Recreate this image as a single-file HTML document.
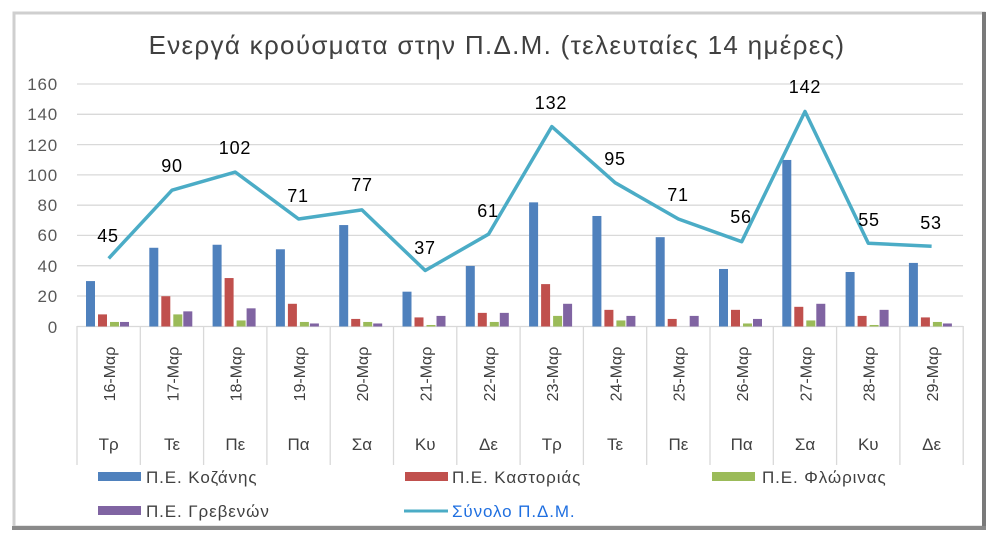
<!DOCTYPE html>
<html><head><meta charset="utf-8"><style>
html,body{margin:0;padding:0;background:#fff;width:1000px;height:540px;overflow:hidden}
svg{display:block;font-family:"Liberation Sans","DejaVu Sans",sans-serif}
</style></head><body>
<svg width="1000" height="540" viewBox="0 0 1000 540" xmlns="http://www.w3.org/2000/svg">
<rect x="0" y="0" width="1000" height="540" fill="#fff"/>
<rect x="14" y="13" width="970" height="514" fill="#fff" stroke="#cfcfcf" stroke-width="3"/>
<line x1="984" y1="12" x2="984" y2="529" stroke="#7a7a7a" stroke-width="4"/>
<line x1="12" y1="528" x2="986" y2="528" stroke="#8a8a8a" stroke-width="4"/>
<text x="497" y="54" text-anchor="middle" font-size="26" letter-spacing="1.3" fill="#404040">Ενεργά κρούσματα στην Π.Δ.Μ. (τελευταίες 14 ημέρες)</text>
<g stroke="#d9d9d9" stroke-width="1.3">
<line x1="77" x2="963" y1="84" y2="84"/><line x1="77" x2="963" y1="114.3" y2="114.3"/>
<line x1="77" x2="963" y1="144.6" y2="144.6"/><line x1="77" x2="963" y1="174.9" y2="174.9"/>
<line x1="77" x2="963" y1="205.2" y2="205.2"/><line x1="77" x2="963" y1="235.4" y2="235.4"/>
<line x1="77" x2="963" y1="265.7" y2="265.7"/><line x1="77" x2="963" y1="296" y2="296"/>
<line x1="77" x2="963" y1="326.5" y2="326.5"/>
</g>
<g font-size="17" fill="#595959" text-anchor="end" letter-spacing="0.8">
<text x="58" y="90">160</text><text x="58" y="120">140</text><text x="58" y="151">120</text>
<text x="58" y="181">100</text><text x="58" y="211">80</text><text x="58" y="241">60</text>
<text x="58" y="272">40</text><text x="58" y="302">20</text><text x="58" y="333">0</text>
</g>
<g stroke="#d9d9d9" stroke-width="1.3">
<line x1="77" x2="77" y1="326" y2="465"/><line x1="140.3" x2="140.3" y1="326" y2="465"/>
<line x1="203.6" x2="203.6" y1="326" y2="465"/><line x1="266.9" x2="266.9" y1="326" y2="465"/>
<line x1="330.2" x2="330.2" y1="326" y2="465"/><line x1="393.5" x2="393.5" y1="326" y2="465"/>
<line x1="456.8" x2="456.8" y1="326" y2="465"/><line x1="520.1" x2="520.1" y1="326" y2="465"/>
<line x1="583.4" x2="583.4" y1="326" y2="465"/><line x1="646.7" x2="646.7" y1="326" y2="465"/>
<line x1="710" x2="710" y1="326" y2="465"/><line x1="773.3" x2="773.3" y1="326" y2="465"/>
<line x1="836.6" x2="836.6" y1="326" y2="465"/><line x1="899.9" x2="899.9" y1="326" y2="465"/>
<line x1="963.2" x2="963.2" y1="326" y2="465"/>
</g>
<g>
<g transform="translate(77,326.5) scale(1,-1.514)"><rect x="9" width="9" height="30" fill="#4f81bd"/><rect x="21" width="9" height="8" fill="#c0504d"/><rect x="33" width="9" height="3" fill="#9bbb59"/><rect x="43" width="9" height="3" fill="#8064a2"/></g>
<g transform="translate(140.3,326.5) scale(1,-1.514)"><rect x="9" width="9" height="52" fill="#4f81bd"/><rect x="21" width="9" height="20" fill="#c0504d"/><rect x="33" width="9" height="8" fill="#9bbb59"/><rect x="43" width="9" height="10" fill="#8064a2"/></g>
<g transform="translate(203.6,326.5) scale(1,-1.514)"><rect x="9" width="9" height="54" fill="#4f81bd"/><rect x="21" width="9" height="32" fill="#c0504d"/><rect x="33" width="9" height="4" fill="#9bbb59"/><rect x="43" width="9" height="12" fill="#8064a2"/></g>
<g transform="translate(266.9,326.5) scale(1,-1.514)"><rect x="9" width="9" height="51" fill="#4f81bd"/><rect x="21" width="9" height="15" fill="#c0504d"/><rect x="33" width="9" height="3" fill="#9bbb59"/><rect x="43" width="9" height="2" fill="#8064a2"/></g>
<g transform="translate(330.2,326.5) scale(1,-1.514)"><rect x="9" width="9" height="67" fill="#4f81bd"/><rect x="21" width="9" height="5" fill="#c0504d"/><rect x="33" width="9" height="3" fill="#9bbb59"/><rect x="43" width="9" height="2" fill="#8064a2"/></g>
<g transform="translate(393.5,326.5) scale(1,-1.514)"><rect x="9" width="9" height="23" fill="#4f81bd"/><rect x="21" width="9" height="6" fill="#c0504d"/><rect x="33" width="9" height="1" fill="#9bbb59"/><rect x="43" width="9" height="7" fill="#8064a2"/></g>
<g transform="translate(456.8,326.5) scale(1,-1.514)"><rect x="9" width="9" height="40" fill="#4f81bd"/><rect x="21" width="9" height="9" fill="#c0504d"/><rect x="33" width="9" height="3" fill="#9bbb59"/><rect x="43" width="9" height="9" fill="#8064a2"/></g>
<g transform="translate(520.1,326.5) scale(1,-1.514)"><rect x="9" width="9" height="82" fill="#4f81bd"/><rect x="21" width="9" height="28" fill="#c0504d"/><rect x="33" width="9" height="7" fill="#9bbb59"/><rect x="43" width="9" height="15" fill="#8064a2"/></g>
<g transform="translate(583.4,326.5) scale(1,-1.514)"><rect x="9" width="9" height="73" fill="#4f81bd"/><rect x="21" width="9" height="11" fill="#c0504d"/><rect x="33" width="9" height="4" fill="#9bbb59"/><rect x="43" width="9" height="7" fill="#8064a2"/></g>
<g transform="translate(646.7,326.5) scale(1,-1.514)"><rect x="9" width="9" height="59" fill="#4f81bd"/><rect x="21" width="9" height="5" fill="#c0504d"/><rect x="43" width="9" height="7" fill="#8064a2"/></g>
<g transform="translate(710,326.5) scale(1,-1.514)"><rect x="9" width="9" height="38" fill="#4f81bd"/><rect x="21" width="9" height="11" fill="#c0504d"/><rect x="33" width="9" height="2" fill="#9bbb59"/><rect x="43" width="9" height="5" fill="#8064a2"/></g>
<g transform="translate(773.3,326.5) scale(1,-1.514)"><rect x="9" width="9" height="110" fill="#4f81bd"/><rect x="21" width="9" height="13" fill="#c0504d"/><rect x="33" width="9" height="4" fill="#9bbb59"/><rect x="43" width="9" height="15" fill="#8064a2"/></g>
<g transform="translate(836.6,326.5) scale(1,-1.514)"><rect x="9" width="9" height="36" fill="#4f81bd"/><rect x="21" width="9" height="7" fill="#c0504d"/><rect x="33" width="9" height="1" fill="#9bbb59"/><rect x="43" width="9" height="11" fill="#8064a2"/></g>
<g transform="translate(899.9,326.5) scale(1,-1.514)"><rect x="9" width="9" height="42" fill="#4f81bd"/><rect x="21" width="9" height="6" fill="#c0504d"/><rect x="33" width="9" height="3" fill="#9bbb59"/><rect x="43" width="9" height="2" fill="#8064a2"/></g>
</g>
<polyline fill="none" stroke="#4bacc6" stroke-width="3.5" stroke-linejoin="round" points="108.7,258.4 172,190.2 235.3,172.1 298.6,219 361.9,209.9 425.2,270.5 488.5,234.2 551.8,126.6 615.1,182.7 678.4,219 741.7,241.7 805,111.5 868.3,243.2 931.6,246.3"/>
<g font-size="18" fill="#000" text-anchor="middle" letter-spacing="0.8">
<text x="108" y="242">45</text><text x="172" y="172">90</text><text x="235" y="154">102</text>
<text x="298" y="202">71</text><text x="362" y="191">77</text><text x="425" y="254">37</text>
<text x="488" y="217">61</text><text x="551" y="109">132</text><text x="615" y="165">95</text>
<text x="678" y="201">71</text><text x="741" y="223">56</text><text x="805" y="93">142</text>
<text x="869" y="226">55</text><text x="931" y="229">53</text>
</g>
<g font-size="16" fill="#404040" text-anchor="middle">
<text transform="translate(115,374) rotate(-90)">16-Μαρ</text>
<text transform="translate(178.3,374) rotate(-90)">17-Μαρ</text>
<text transform="translate(241.6,374) rotate(-90)">18-Μαρ</text>
<text transform="translate(304.9,374) rotate(-90)">19-Μαρ</text>
<text transform="translate(368.2,374) rotate(-90)">20-Μαρ</text>
<text transform="translate(431.5,374) rotate(-90)">21-Μαρ</text>
<text transform="translate(494.8,374) rotate(-90)">22-Μαρ</text>
<text transform="translate(558.1,374) rotate(-90)">23-Μαρ</text>
<text transform="translate(621.4,374) rotate(-90)">24-Μαρ</text>
<text transform="translate(684.7,374) rotate(-90)">25-Μαρ</text>
<text transform="translate(748,374) rotate(-90)">26-Μαρ</text>
<text transform="translate(811.3,374) rotate(-90)">27-Μαρ</text>
<text transform="translate(874.6,374) rotate(-90)">28-Μαρ</text>
<text transform="translate(937.9,374) rotate(-90)">29-Μαρ</text>
</g>
<g font-size="17" fill="#404040" text-anchor="middle">
<text x="108.7" y="450">Τρ</text><text x="172" y="450">Τε</text><text x="235.3" y="450">Πε</text>
<text x="298.6" y="450">Πα</text><text x="361.9" y="450">Σα</text><text x="425.2" y="450">Κυ</text>
<text x="488.5" y="450">Δε</text><text x="551.8" y="450">Τρ</text><text x="615.1" y="450">Τε</text>
<text x="678.4" y="450">Πε</text><text x="741.7" y="450">Πα</text><text x="805" y="450">Σα</text>
<text x="868.3" y="450">Κυ</text><text x="931.6" y="450">Δε</text>
</g>
<g font-size="17" fill="#404040" letter-spacing="0.9">
<rect x="98" y="472" width="43" height="9" fill="#4f81bd"/><text x="146" y="483">Π.Ε. Κοζάνης</text>
<rect x="405" y="472" width="43" height="9" fill="#c0504d"/><text x="452" y="483">Π.Ε. Καστοριάς</text>
<rect x="712" y="472" width="43" height="9" fill="#9bbb59"/><text x="762" y="483">Π.Ε. Φλώρινας</text>
<rect x="98" y="506" width="43" height="9" fill="#8064a2"/><text x="146" y="517">Π.Ε. Γρεβενών</text>
<line x1="404" x2="448" y1="511" y2="511" stroke="#4bacc6" stroke-width="3"/><text x="452" y="517" fill="#1f6fe0">Σύνολο Π.Δ.Μ.</text>
</g>
</svg>
</body></html>
